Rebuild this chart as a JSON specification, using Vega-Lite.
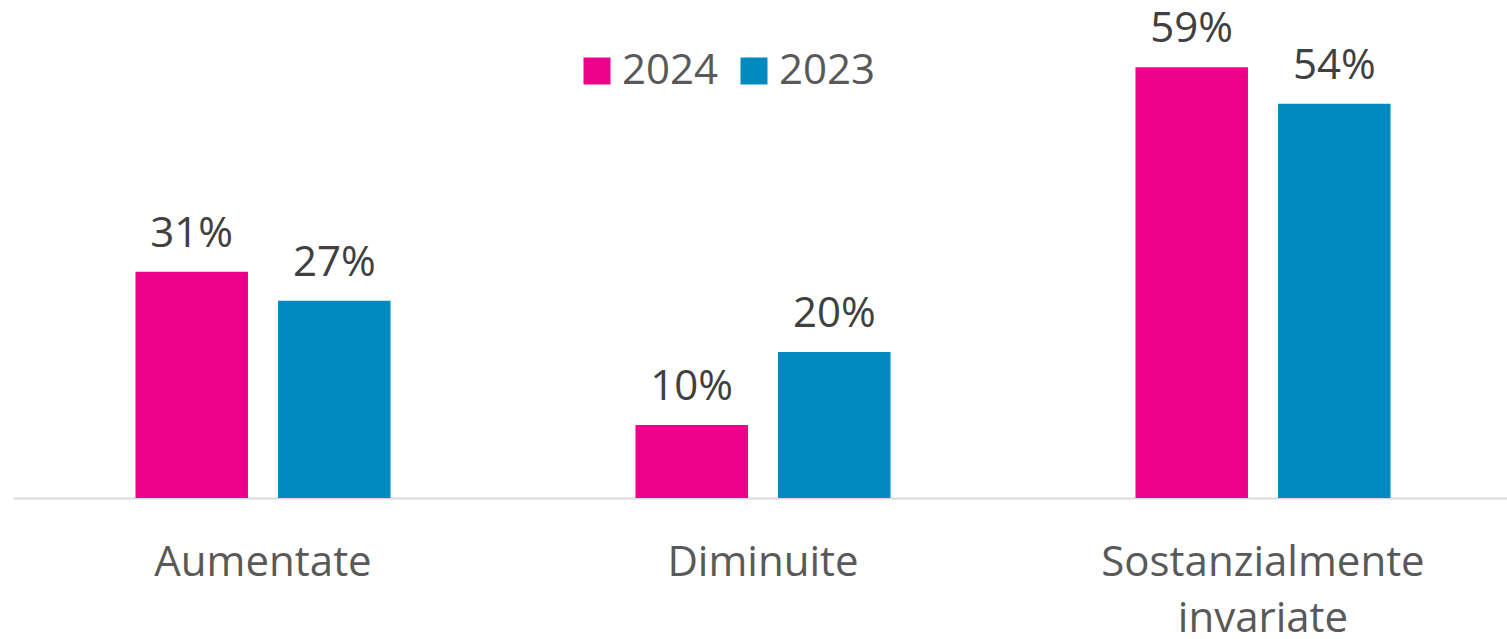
{
  "$schema": "https://vega.github.io/schema/vega-lite/v6.json",
  "width": 1494,
  "height": 498,
  "autosize": {"type": "none"},
  "padding": {"left": 13, "top": 0, "right": 0, "bottom": 141},
  "background": "white",
  "config": {
    "view": {"stroke": null},
    "font": "Open Sans"
  },
  "data": {
    "values": [
      {"categoria": "Aumentate", "anno": "2024", "valore": 0.31},
      {"categoria": "Aumentate", "anno": "2023", "valore": 0.27},
      {"categoria": "Diminuite", "anno": "2024", "valore": 0.10},
      {"categoria": "Diminuite", "anno": "2023", "valore": 0.20},
      {"categoria": "Sostanzialmente invariate", "anno": "2024", "valore": 0.59},
      {"categoria": "Sostanzialmente invariate", "anno": "2023", "valore": 0.54}
    ]
  },
  "encoding": {
    "x": {
      "field": "categoria",
      "type": "nominal",
      "sort": ["Aumentate", "Diminuite", "Sostanzialmente invariate"],
      "scale": {"paddingInner": 0, "paddingOuter": 0, "range": [0, 1500]},
      "axis": {
        "title": null,
        "labelAngle": 0,
        "ticks": false,
        "domainColor": "#D9D9D9",
        "domainWidth": 2,
        "labelFont": "Open Sans",
        "labelFontSize": 42,
        "labelColor": "#595959",
        "labelPadding": 44,
        "labelLineHeight": 56,
        "labelLimit": 0,
        "labelExpr": "datum.label == 'Sostanzialmente invariate' ? ['Sostanzialmente', 'invariate'] : datum.label"
      }
    },
    "xOffset": {
      "field": "anno",
      "type": "nominal",
      "sort": ["2024", "2023"],
      "scale": {"paddingInner": 0.211, "paddingOuter": 0.859}
    },
    "y": {
      "field": "valore",
      "type": "quantitative",
      "scale": {"domain": [0, 0.682], "nice": false},
      "axis": null
    }
  },
  "layer": [
    {
      "mark": {"type": "bar"},
      "encoding": {
        "color": {
          "field": "anno",
          "type": "nominal",
          "sort": ["2024", "2023"],
          "scale": {"domain": ["2024", "2023"], "range": ["#EC008C", "#008ABF"]},
          "legend": {
            "title": null,
            "orient": "none",
            "direction": "horizontal",
            "legendX": 563,
            "legendY": 50,
            "padding": 0,
            "symbolType": "square",
            "symbolSize": 729,
            "symbolStrokeWidth": 0,
            "symbolOpacity": 1,
            "labelFont": "Open Sans",
            "labelFontSize": 42,
            "labelColor": "#595959",
            "labelOffset": 4,
            "columnPadding": 14
          }
        }
      }
    },
    {
      "mark": {
        "type": "text",
        "baseline": "alphabetic",
        "dy": -25,
        "font": "Open Sans",
        "fontSize": 42,
        "color": "#404040"
      },
      "encoding": {
        "text": {"field": "valore", "type": "quantitative", "format": ".0%"},
        "detail": {"field": "anno"}
      }
    }
  ]
}
